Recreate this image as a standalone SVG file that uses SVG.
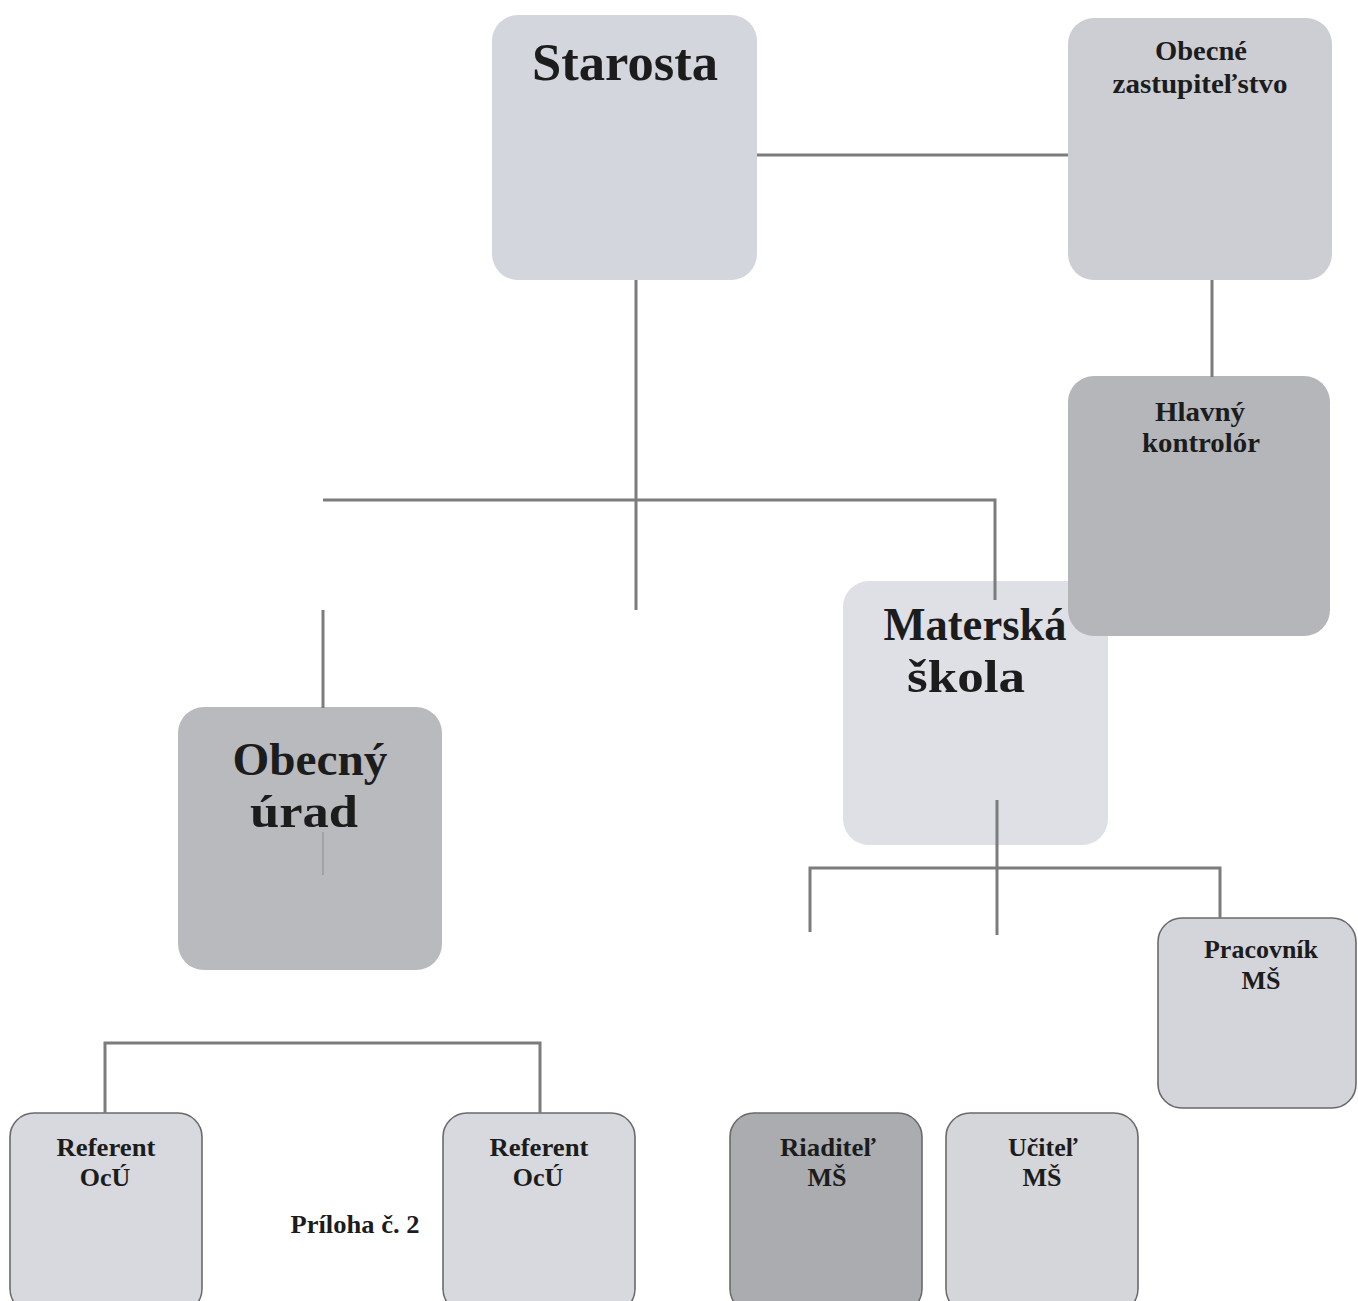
<svg xmlns="http://www.w3.org/2000/svg" width="1358" height="1301" viewBox="0 0 1358 1301">
  <style>
    .box { stroke: none; }
    .framed { stroke: #6a6a6a; stroke-width: 1.6; }
    .t { font-family: "Liberation Serif", "Times New Roman", serif; font-weight: bold; fill: #1c1c1c; text-anchor: middle; }
    .big { font-size: 53px; }
    .big2 { font-size: 46px; }
    .mid { font-size: 28px; }
    .sm { font-size: 26px; }
    .con { stroke: #7c7c7c; stroke-width: 3; fill: none; }
    .faint { stroke: #a2a3a6; stroke-width: 2; fill: none; }
  </style>
  <rect width="1358" height="1301" fill="#ffffff"/>

  <g id="nodes">
    <g id="starosta">
      <rect class="box" x="492" y="15" width="265" height="265" rx="26" fill="#d3d6dd"/>
      <text class="t big" x="625" y="80" textLength="186" lengthAdjust="spacingAndGlyphs">Starosta</text>
    </g>
    <g id="obecne-zastupitelstvo">
      <rect class="box" x="1068" y="18" width="264" height="262" rx="26" fill="#ccced4"/>
      <text class="t mid" x="1201" y="60" textLength="92" lengthAdjust="spacingAndGlyphs">Obecné</text>
      <text class="t mid" x="1200" y="93" textLength="175" lengthAdjust="spacingAndGlyphs">zastupiteľstvo</text>
    </g>
    <g id="materska-skola">
      <rect class="box" x="843" y="581" width="265" height="264" rx="26" fill="#dee0e5"/>
      <text class="t big2" x="975" y="640" textLength="183" lengthAdjust="spacingAndGlyphs">Materská</text>
      <text class="t big2" x="966" y="692" textLength="118" lengthAdjust="spacingAndGlyphs">škola</text>
    </g>
    <g id="hlavny-kontrolor">
      <rect class="box" x="1068" y="376" width="262" height="260" rx="26" fill="#b4b6ba"/>
      <text class="t mid" x="1200" y="421" textLength="90" lengthAdjust="spacingAndGlyphs">Hlavný</text>
      <text class="t mid" x="1201" y="452" textLength="118" lengthAdjust="spacingAndGlyphs">kontrolór</text>
    </g>
    <g id="obecny-urad">
      <rect class="box" x="178" y="707" width="264" height="263" rx="26" fill="#b8babe"/>
      <text class="t big2" x="310" y="775" textLength="155" lengthAdjust="spacingAndGlyphs">Obecný</text>
      <text class="t big2" x="304" y="827" textLength="108" lengthAdjust="spacingAndGlyphs">úrad</text>
      <line class="faint" x1="323" y1="832" x2="323" y2="875"/>
    </g>
    <g id="pracovnik-ms">
      <rect class="framed" x="1158" y="918" width="198" height="190" rx="24" fill="#d3d5da"/>
      <text class="t sm" x="1261" y="958" textLength="114" lengthAdjust="spacingAndGlyphs">Pracovník</text>
      <text class="t sm" x="1261" y="989">MŠ</text>
    </g>
    <g id="referent-ocu-1">
      <rect class="framed" x="10" y="1113" width="192" height="200" rx="24" fill="#d7d9de"/>
      <text class="t sm" x="106" y="1156" textLength="99" lengthAdjust="spacingAndGlyphs">Referent</text>
      <text class="t sm" x="105" y="1186">OcÚ</text>
    </g>
    <g id="referent-ocu-2">
      <rect class="framed" x="443" y="1113" width="192" height="200" rx="24" fill="#d7d9de"/>
      <text class="t sm" x="539" y="1156" textLength="99" lengthAdjust="spacingAndGlyphs">Referent</text>
      <text class="t sm" x="538" y="1186">OcÚ</text>
    </g>
    <g id="riaditel-ms">
      <rect class="framed" x="730" y="1113" width="192" height="200" rx="24" fill="#aaacb0"/>
      <text class="t sm" x="828" y="1156" textLength="96" lengthAdjust="spacingAndGlyphs">Riaditeľ</text>
      <text class="t sm" x="827" y="1186">MŠ</text>
    </g>
    <g id="ucitel-ms">
      <rect class="framed" x="946" y="1113" width="192" height="200" rx="24" fill="#d4d6da"/>
      <text class="t sm" x="1043" y="1156" textLength="70" lengthAdjust="spacingAndGlyphs">Učiteľ</text>
      <text class="t sm" x="1042" y="1186">MŠ</text>
    </g>
  </g>

  <g id="connectors">
    <line class="con" x1="757" y1="155" x2="1068" y2="155"/>
    <line class="con" x1="1212" y1="280" x2="1212" y2="377"/>
    <line class="con" x1="636" y1="280" x2="636" y2="610"/>
    <polyline class="con" points="323,500 995,500 995,600"/>
    <line class="con" x1="323" y1="610" x2="323" y2="708"/>
    <line class="con" x1="997" y1="800" x2="997" y2="935"/>
    <polyline class="con" points="810,932 810,868 1220,868 1220,918"/>
    <polyline class="con" points="105,1113 105,1043 540,1043 540,1113"/>
  </g>

  <text class="t" x="355" y="1233" font-size="26" textLength="129" lengthAdjust="spacingAndGlyphs">Príloha č. 2</text>
</svg>
